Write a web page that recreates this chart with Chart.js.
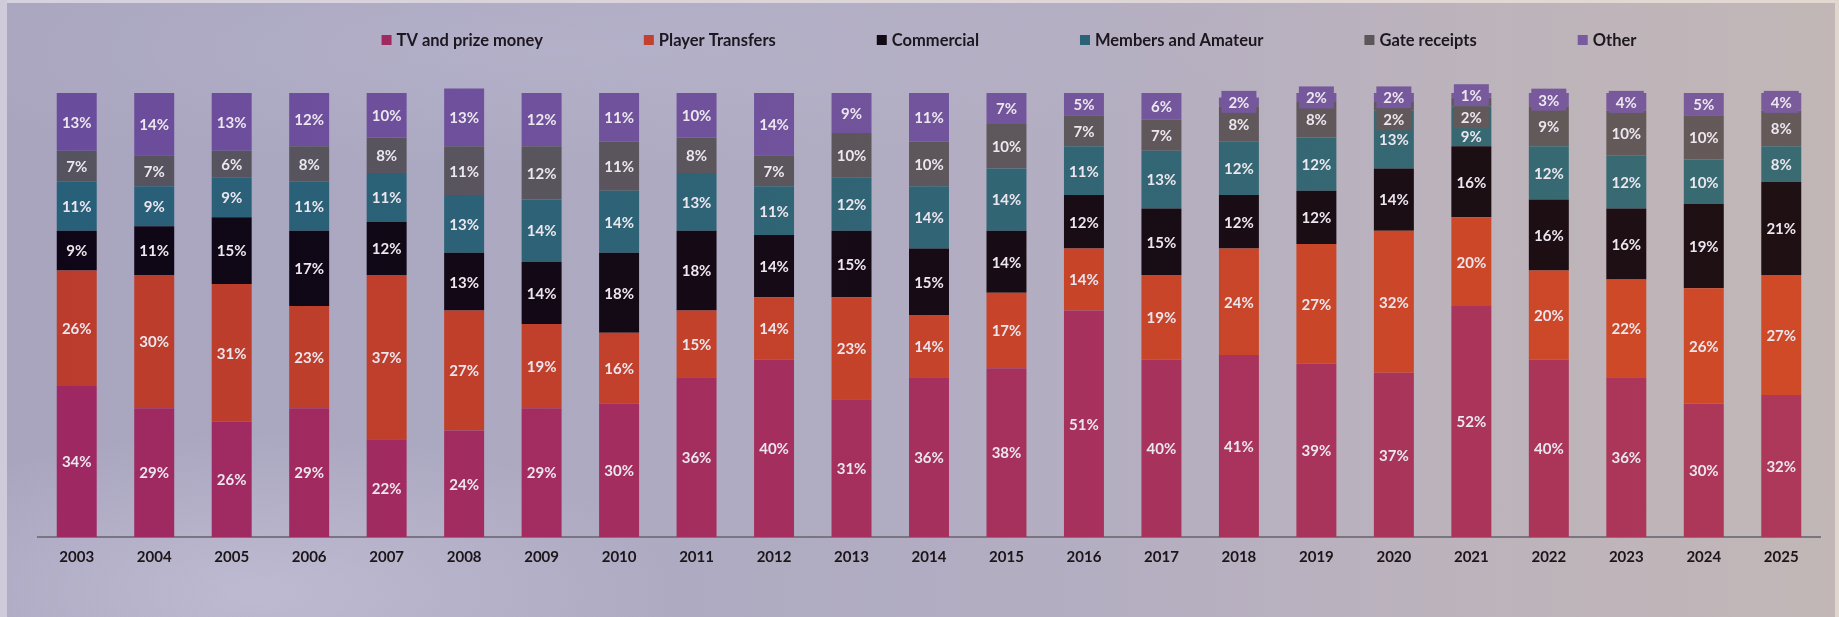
<!DOCTYPE html>
<html>
<head>
<meta charset="utf-8">
<script src="https://cdn.jsdelivr.net/npm/chart.js@4.4.1/dist/chart.umd.min.js"></script>
<style>
  html, body { margin: 0; padding: 0; }
  body {
    width: 1839px; height: 617px; overflow: hidden; position: relative;
    background:
      radial-gradient(ellipse 420px 160px at 14% 96%, rgba(225,222,240,0.35), rgba(225,222,240,0) 100%),
      radial-gradient(ellipse 700px 120px at 30% 8%, rgba(200,196,222,0.25), rgba(200,196,222,0) 100%),
      linear-gradient(90deg, #a9a5bf 0%, #adaac2 35%, #b4aec1 60%, #bcb3bc 80%, #c2b7b6 100%);
  }
  .strip { position: absolute; }
  #stripTop { left: 0; top: 0; width: 1839px; height: 3px; background: linear-gradient(90deg, #d5d1df, #e4d9d1); }
  #stripLeft { left: 0; top: 0; width: 7px; height: 617px; background: #cfcbda; }
  #stripRight { right: 0; top: 0; width: 4px; height: 617px; background: #e2d7ce; }
  #wrap { position: absolute; left: 0; top: 0; width: 1839px; height: 617px; }
</style>
</head>
<body>
<div class="strip" id="stripTop"></div>
<div class="strip" id="stripLeft"></div>
<div class="strip" id="stripRight"></div>
<div id="wrap"><canvas id="revChart" width="1839" height="617"></canvas></div>
<script>
// share of revenue per source, %
const years = ['2003','2004','2005','2006','2007','2008','2009','2010','2011','2012','2013','2014',
               '2015','2016','2017','2018','2019','2020','2021','2022','2023','2024','2025'];
const tvPrize     = [34, 29, 26, 29, 22, 24, 29, 30, 36, 40, 31, 36, 38, 51, 40, 41, 39, 37, 52, 40, 36, 30, 32];
const transfers   = [26, 30, 31, 23, 37, 27, 19, 16, 15, 14, 23, 14, 17, 14, 19, 24, 27, 32, 20, 20, 22, 26, 27];
const commercial  = [ 9, 11, 15, 17, 12, 13, 14, 18, 18, 14, 15, 15, 14, 12, 15, 12, 12, 14, 16, 16, 16, 19, 21];
const members     = [11,  9,  9, 11, 11, 13, 14, 14, 13, 11, 12, 14, 14, 11, 13, 12, 12, 13,  9, 12, 12, 10,  8];
const gate        = [ 7,  7,  6,  8,  8, 11, 12, 11,  8,  7, 10, 10, 10,  7,  7,  8,  8,  2,  2,  9, 10, 10,  8];
const other       = [13, 14, 13, 12, 10, 13, 12, 11, 10, 14,  9, 11,  7,  5,  6,  2,  2,  2,  1,  3,  4,  5,  4];

// [left, right] tint of each series, the slide overlay shifts hue across
const tints = {
  tv:    ['#9e2862', '#ad3858'],
  trans: ['#bb3c2d', '#d04a27'],
  comm:  ['#0e0617', '#1f1013'],
  memb:  ['#285f79', '#3a6b71'],
  gate:  ['#55535f', '#655a58'],
  other: ['#6a4c9c', '#7a5c9c']
};

const gradCache = {};
function tint(key) {
  return (c) => {
    const area = c.chart.chartArea;
    if (!area) return tints[key][0];
    const id = key + area.left + area.right;
    if (!gradCache[id]) {
      const g = c.chart.ctx.createLinearGradient(area.left, 0, area.right, 0);
      g.addColorStop(0, tints[key][0]);
      g.addColorStop(1, tints[key][1]);
      gradCache[id] = g;
    }
    return gradCache[id];
  };
}

// labels in the middle of each segment, small ones get a filled box,
// and labels get pushed down when they would overlap the one above
const segLabels = {
  id: 'segLabels',
  afterDatasetsDraw(chart) {
    const ctx = chart.ctx;
    ctx.save();
    ctx.font = 'bold 15px Lato';
    ctx.textAlign = 'center';
    ctx.textBaseline = 'middle';
    const sets = chart.data.datasets;
    for (let i = 0; i < chart.data.labels.length; i++) {
      let floor = -Infinity;
      for (let d = sets.length - 1; d >= 0; d--) {
        const bar = chart.getDatasetMeta(d).data[i];
        const { x, y, base } = bar.getProps(['x', 'y', 'base'], true);
        const txt = sets[d].data[i] + '%';
        const boxed = base - y < 22;
        const bh = boxed ? 22 : 16;
        let top = Math.max((y + base) / 2 - bh / 2, floor);
        floor = top + bh;
        if (boxed) {
          const w = ctx.measureText(txt).width + 14;
          ctx.fillStyle = bar.options.backgroundColor;
          ctx.fillRect(x - w / 2, top, w, bh);
        }
        ctx.fillStyle = '#ece6ee';
        ctx.fillText(txt, x, top + bh / 2 + 1);
      }
    }
    ctx.restore();
  }
};

// one-row legend, centred a bit right of the plot like the slide
const rowLegend = {
  id: 'rowLegend',
  afterDraw(chart, args, opts) {
    const ctx = chart.ctx;
    ctx.save();
    ctx.font = opts.font;
    ctx.textBaseline = 'middle';
    const items = chart.data.datasets.map(ds => ({ text: ds.label, color: ds.legendColor, w: ctx.measureText(ds.label).width }));
    const total = items.reduce((s, it) => s + opts.box + opts.boxGap + it.w, 0) + opts.gap * (items.length - 1);
    let x = opts.centerX - total / 2;
    items.forEach(it => {
      ctx.fillStyle = it.color;
      ctx.fillRect(x, opts.y - opts.box / 2, opts.box, opts.box);
      ctx.fillStyle = opts.color;
      ctx.fillText(it.text, x + opts.box + opts.boxGap, opts.y + 1);
      x += opts.box + opts.boxGap + it.w + opts.gap;
    });
    ctx.restore();
  }
};

const ds = (label, data, key, legendColor) => ({
  label, data, legendColor,
  backgroundColor: tint(key),
  borderWidth: 0,
  barPercentage: 0.516,
  categoryPercentage: 1,
  clip: false
});

new Chart(document.getElementById('revChart').getContext('2d'), {
  type: 'bar',
  data: {
    labels: years,
    datasets: [
      ds('TV and prize money', tvPrize, 'tv', '#a02a60'),
      ds('Player Transfers', transfers, 'trans', '#c2412e'),
      ds('Commercial', commercial, 'comm', '#120a14'),
      ds('Members and Amateur', members, 'memb', '#2c6277'),
      ds('Gate receipts', gate, 'gate', '#5b5759'),
      ds('Other', other, 'other', '#785a9e')
    ]
  },
  options: {
    responsive: false,
    animation: false,
    devicePixelRatio: 1,
    layout: { padding: { top: 93, left: 38, right: 19, bottom: 40 } },
    plugins: {
      legend: { display: false },
      tooltip: { enabled: false },
      rowLegend: { font: 'bold 16.5px Lato', color: '#1d1820', box: 10, boxGap: 5, gap: 101, centerX: 1009, y: 40 }
    },
    scales: {
      x: {
        stacked: true,
        grid: { display: false, drawTicks: false },
        border: { display: true, color: '#7a7580', width: 2 },
        ticks: { color: '#1c1519', font: { family: 'Lato', weight: 'bold', size: 15 }, padding: 11, maxRotation: 0, autoSkip: false }
      },
      y: { stacked: true, display: false, min: 0, max: 100 }
    }
  },
  plugins: [segLabels, rowLegend]
});
</script>
</body>
</html>
